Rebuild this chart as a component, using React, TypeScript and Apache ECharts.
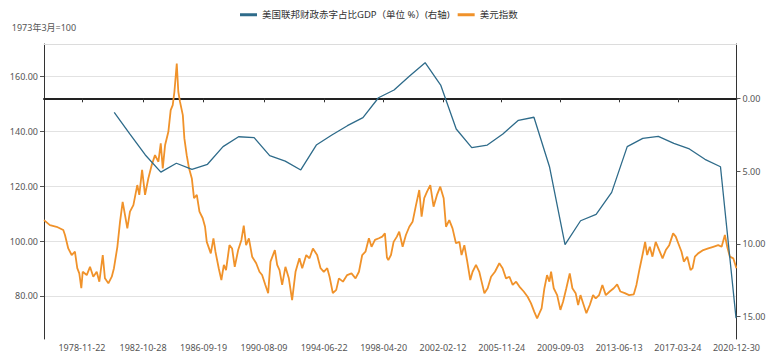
import React, { useEffect, useRef } from "react";
import * as echarts from "echarts";

// X-axis tick labels (dates)
const xTickLabels = [
  "1978-11-22", "1982-10-28", "1986-09-19", "1990-08-09", "1994-06-22", "1998-04-20",
  "2002-02-12", "2005-11-24", "2009-09-03", "2013-06-13", "2017-03-24", "2020-12-30",
];

// Dollar index: dates as decimal years, values (1973-03 = 100)
const dxyDates = [
  1976.45, 1976.83, 1977.26, 1977.69, 1977.80, 1978.01, 1978.23, 1978.44, 1978.59, 1978.72,
  1978.85, 1978.94, 1979.20, 1979.41, 1979.62, 1979.84, 1980.01, 1980.23, 1980.37, 1980.59,
  1980.81, 1980.95, 1981.17, 1981.34, 1981.51, 1981.66, 1981.81, 1981.98, 1982.20, 1982.45,
  1982.58, 1982.76, 1982.95, 1983.16, 1983.38, 1983.59, 1983.81, 1983.96, 1984.09, 1984.24,
  1984.45, 1984.60, 1984.73, 1984.84, 1984.99, 1985.09, 1985.20, 1985.38, 1985.48, 1985.63,
  1985.78, 1985.96, 1986.10, 1986.28, 1986.45, 1986.66, 1986.81, 1986.92, 1987.18, 1987.35,
  1987.48, 1987.69, 1987.86, 1988.02, 1988.16, 1988.38, 1988.55, 1988.72, 1988.94, 1989.15,
  1989.30, 1989.45, 1989.63, 1989.84, 1990.10, 1990.31, 1990.48, 1990.69, 1990.87, 1991.02,
  1991.30, 1991.45, 1991.60, 1991.77, 1991.98, 1992.20, 1992.41, 1992.63, 1992.88, 1993.06,
  1993.32, 1993.53, 1993.75, 1994.02, 1994.24, 1994.45, 1994.67, 1994.82, 1995.03, 1995.25,
  1995.42, 1995.68, 1995.95, 1996.23, 1996.49, 1996.71, 1996.92, 1997.13, 1997.35, 1997.52,
  1997.74, 1997.99, 1998.21, 1998.38, 1998.51, 1998.60, 1998.77, 1998.94, 1999.15, 1999.30,
  1999.52, 1999.73, 1999.95, 2000.16, 2000.38, 2000.59, 2000.74, 2000.91, 2001.09, 2001.30,
  2001.51, 2001.73, 2001.94, 2002.16, 2002.31, 2002.52, 2002.73, 2002.95, 2003.17, 2003.31,
  2003.49, 2003.66, 2003.87, 2004.02, 2004.24, 2004.45, 2004.60, 2004.78, 2004.99, 2005.21,
  2005.46, 2005.74, 2005.95, 2006.17, 2006.39, 2006.60, 2006.82, 2007.03, 2007.31, 2007.56,
  2007.78, 2007.99, 2008.17, 2008.32, 2008.46, 2008.64, 2008.81, 2008.96, 2009.07, 2009.24,
  2009.46, 2009.67, 2009.84, 2010.05, 2010.27, 2010.44, 2010.65, 2010.81, 2010.96, 2011.13,
  2011.34, 2011.56, 2011.77, 2011.94, 2012.16, 2012.37, 2012.59, 2012.84, 2013.10, 2013.32,
  2013.53, 2013.81, 2014.09, 2014.39, 2014.56, 2014.77, 2014.95, 2015.12, 2015.25, 2015.42,
  2015.59, 2015.80, 2016.02, 2016.24, 2016.45, 2016.67, 2016.92, 2017.09, 2017.25, 2017.46,
  2017.61, 2017.83, 2018.04, 2018.17, 2018.32, 2018.53, 2018.86, 2019.18, 2019.50, 2019.82,
  2020.04, 2020.25, 2020.40, 2020.57, 2020.79, 2020.99,
];
const dxyValues = [
  107.6, 105.8, 105.2, 104.0, 102.2, 97.3, 94.9, 96.1, 90.1, 88.2,
  82.8, 88.8, 87.6, 90.6, 87.0, 88.8, 85.2, 94.9, 86.4, 84.6,
  87.0, 90.1, 97.9, 107.0, 114.3, 109.5, 104.6, 110.7, 113.1, 120.4,
  116.8, 125.9, 116.8, 122.8, 127.7, 131.3, 128.9, 135.6, 126.5, 135.0,
  139.8, 147.7, 149.5, 154.4, 164.7, 154.4, 150.7, 145.9, 137.4, 131.3,
  126.5, 122.8, 115.6, 116.8, 110.7, 108.3, 105.2, 99.7, 95.5, 101.0,
  96.1, 90.1, 85.8, 91.3, 89.4, 98.5, 97.3, 90.6, 96.7, 100.4,
  105.6, 98.5, 101.0, 94.3, 91.9, 88.8, 87.6, 84.0, 81.0, 92.5,
  96.7, 91.3, 89.4, 84.0, 90.6, 86.4, 78.5, 88.8, 93.7, 90.1,
  94.9, 93.7, 97.3, 94.9, 90.1, 88.8, 90.1, 87.0, 81.0, 82.2,
  86.4, 85.2, 87.6, 88.2, 86.4, 88.8, 94.9, 96.1, 101.0, 97.9,
  100.4, 101.0, 101.6, 102.8, 94.0, 93.1, 94.9, 99.7, 101.6, 103.4,
  97.9, 102.2, 105.2, 107.0, 113.1, 118.6, 108.9, 115.6, 118.0, 120.4,
  112.5, 116.8, 119.8, 115.6, 105.2, 107.6, 104.6, 99.2, 99.7, 94.9,
  98.5, 93.1, 85.8, 88.8, 91.3, 88.8, 85.2, 81.0, 82.8, 87.0,
  88.8, 91.9, 90.1, 86.4, 87.0, 84.0, 85.2, 83.4, 81.6, 79.7,
  77.3, 74.2, 71.8, 73.7, 75.5, 82.8, 87.6, 85.2, 88.8, 82.8,
  80.3, 74.9, 77.9, 82.8, 88.2, 82.8, 81.0, 76.7, 80.3, 77.3,
  73.7, 76.7, 80.3, 79.1, 80.3, 84.0, 80.3, 81.6, 82.8, 84.2,
  81.6, 81.0, 80.3, 80.6, 84.0, 90.1, 94.9, 99.7, 94.9, 97.9,
  94.3, 99.7, 96.7, 93.7, 96.7, 98.5, 102.8, 101.6, 99.2, 96.1,
  92.5, 94.3, 89.4, 90.1, 94.3, 95.5, 96.7, 97.3, 97.9, 98.5,
  97.9, 102.2, 97.9, 94.3, 93.7, 90.1,
];

// US federal deficit as % of GDP (positive = deficit), fiscal years
const deficitYears = [
  1980, 1981, 1982, 1983, 1984, 1985, 1986, 1987, 1988, 1989,
  1990, 1991, 1992, 1993, 1994, 1995, 1996, 1997, 1998, 1999,
  2000, 2001, 2002, 2003, 2004, 2005, 2006, 2007, 2008, 2009,
  2010, 2011, 2012, 2013, 2014, 2015, 2016, 2017, 2018, 2019, 2020,
];
const deficitValues = [
  0.96, 2.45, 3.89, 5.07, 4.46, 4.88, 4.53, 3.32, 2.64, 2.70,
  3.94, 4.31, 4.92, 3.21, 2.52, 1.88, 1.33, -0.04, -0.57, -1.53,
  -2.45, -0.91, 2.11, 3.39, 3.21, 2.45, 1.51, 1.30, 4.70, 10.05,
  8.41, 7.97, 6.46, 3.32, 2.75, 2.61, 3.09, 3.48, 4.19, 4.70, 15.1,
];

const leftTicks = [80, 100, 120, 140, 160];
const rightTicks = [0, 5, 10, 15];

const seriesNames = ["美国联邦财政赤字占比GDP（单位 %）(右轴)", "美元指数"];
const leftAxisName = "1973年3月=100";

// date helpers: everything on the x axis is expressed in decimal years
function timeToDecYear(t: number): number {
  const d = new Date(t);
  const yr = d.getUTCFullYear();
  const s = Date.UTC(yr, 0, 1);
  const e = Date.UTC(yr + 1, 0, 1);
  return yr + (t - s) / (e - s);
}
function dateToDecYear(s: string): number {
  const [a, b, c] = s.split("-").map(Number);
  return timeToDecYear(Date.UTC(a, b - 1, c));
}

const FONT = "'Noto Sans', 'Noto Sans CJK SC', sans-serif";

export default function App() {
  const ref = useRef<HTMLDivElement>(null);
  useEffect(() => {
    if (!ref.current) return;
    const chart = echarts.init(ref.current, null, { renderer: "svg" });
    const tickPos = xTickLabels.map(dateToDecYear);
    const labelFor = (v: number) => {
      let best = 0;
      for (let i = 1; i < tickPos.length; i++) {
        if (Math.abs(tickPos[i] - v) < Math.abs(tickPos[best] - v)) best = i;
      }
      return xTickLabels[best];
    };
    const xMin = 1976.45;
    const xMax = dateToDecYear("2020-12-31");
    const dxyData = dxyDates.map((d, i) => [d, dxyValues[i]]);
    const defData = deficitYears.map((y, i) => [timeToDecYear(Date.UTC(y, 11, 20)), deficitValues[i]]);

    const baseX = {
      type: "value",
      min: xMin,
      max: xMax,
      splitLine: { show: false },
    };

    chart.setOption({
      animation: false,
      textStyle: { fontFamily: FONT },
      legend: {
        left: 235,
        top: 5,
        itemWidth: 17,
        itemHeight: 3,
        itemGap: 8,
        icon: "rect",
        textStyle: { fontSize: 9.5, color: "#333", fontFamily: FONT },
        data: seriesNames,
      },
      grid: { left: 44, right: 31.5, top: 44, bottom: 15, containLabel: false, outerBoundsMode: "none" },
      xAxis: [
        {
          ...baseX,
          position: "bottom",
          axisLine: { show: false, onZero: false },
          axisTick: { show: false },
          axisLabel: {
            customValues: tickPos,
            formatter: (v: number) => labelFor(v),
            fontSize: 9,
            color: "#555",
            margin: 4,
            fontFamily: FONT,
          },
        },
        {
          ...baseX,
          position: "bottom",
          axisLine: { show: true, onZero: true, onZeroAxisIndex: 1, lineStyle: { color: "#222", width: 2 } },
          axisTick: { show: true, customValues: tickPos, length: 4, lineStyle: { color: "#333" } },
          axisLabel: { show: false },
        },
        {
          ...baseX,
          position: "top",
          axisLine: { show: true, onZero: false, lineStyle: { color: "#dcdcdc", width: 1 } },
          axisTick: { show: false },
          axisLabel: { show: false },
        },
      ],
      yAxis: [
        {
          type: "value",
          min: 64.3,
          max: 171.8,
          position: "left",
          name: leftAxisName,
          nameLocation: "end",
          nameGap: 12,
          nameTextStyle: { fontSize: 9, color: "#555", align: "center", fontFamily: FONT },
          axisLine: { show: true, lineStyle: { color: "#333" } },
          axisTick: { show: true, customValues: leftTicks, length: 4, lineStyle: { color: "#555" } },
          axisLabel: {
            customValues: leftTicks,
            formatter: (v: number) => v.toFixed(2),
            fontSize: 9,
            color: "#555",
            margin: 6,
            fontFamily: FONT,
          },
          splitLine: { show: true, lineStyle: { color: "#e2e2e2", width: 1 } },
        },
        {
          type: "value",
          min: -3.73,
          max: 16.53,
          inverse: true,
          position: "right",
          axisLine: { show: true, onZero: false, lineStyle: { color: "#333" } },
          axisTick: { show: true, customValues: rightTicks, length: 4, lineStyle: { color: "#555" } },
          axisLabel: {
            customValues: rightTicks,
            formatter: (v: number) => v.toFixed(2),
            fontSize: 9,
            color: "#555",
            margin: 6,
            fontFamily: FONT,
          },
          splitLine: { show: false },
        },
      ],
      series: [
        {
          name: seriesNames[0],
          type: "line",
          xAxisIndex: 0,
          yAxisIndex: 1,
          data: defData,
          showSymbol: false,
          symbol: "none",
          lineStyle: { color: "#2E6B8A", width: 1.3 },
          itemStyle: { color: "#2E6B8A" },
          z: 3,
        },
        {
          name: seriesNames[1],
          type: "line",
          xAxisIndex: 0,
          yAxisIndex: 0,
          data: dxyData,
          showSymbol: false,
          symbol: "none",
          lineStyle: { color: "#F0922A", width: 1.8 },
          itemStyle: { color: "#F0922A" },
          z: 2,
        },
      ],
    });
    return () => chart.dispose();
  }, []);
  return <div ref={ref} style={{ position: "absolute", left: 0, top: 0, width: 768, height: 354 }} />;
}
